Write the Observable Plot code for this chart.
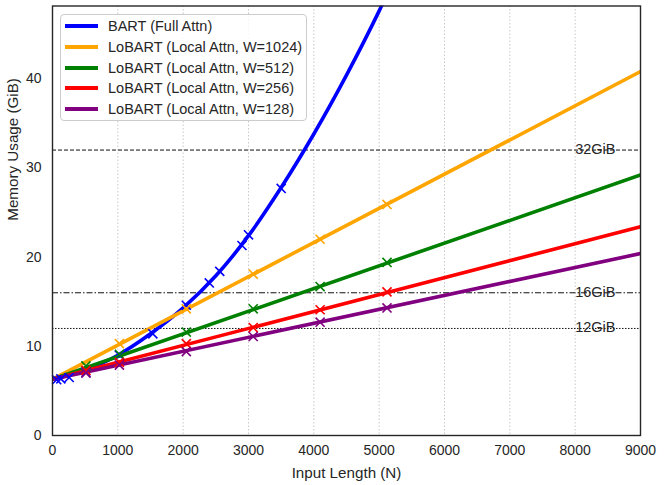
<!DOCTYPE html>
<html>
<head>
<meta charset="utf-8">
<script src="https://cdn.jsdelivr.net/npm/d3@7"></script>
<script src="https://cdn.jsdelivr.net/npm/@observablehq/plot@0.6"></script>
<style>
  body { margin: 0; background: #fff; }
  #wrap { position: relative; width: 664px; height: 485px; font-family: "Liberation Sans", Arial, sans-serif; }
  #legend { position: absolute; left: 60px; top: 14px; width: 247px; height: 107px; border: 1px solid #cccccc; border-radius: 4px; background: rgba(255,255,255,0.85); box-sizing: border-box; }
  .row { position: absolute; left: 0; height: 20px; display: flex; align-items: center; font-size: 14.5px; color: #262626; white-space: nowrap; }
  .sw { width: 33px; height: 4px; margin-left: 4px; margin-right: 10px; }
</style>
</head>
<body>
<div id="wrap"></div>
<script>
// ---- data ----
const seriesNames = ["BART (Full Attn)", "LoBART (Local Attn, W=1024)", "LoBART (Local Attn, W=512)", "LoBART (Local Attn, W=256)", "LoBART (Local Attn, W=128)"];
const seriesColors = ["#0000ff", "#ffa500", "#008000", "#ff0000", "#800080"];

// BART fitted curve
const bartCurveX = [0, 500, 1000, 1500, 2000, 2500, 3000, 3500, 4000, 4500, 5000, 5100];
const bartCurveY = [6.3, 7.3, 9.0, 11.4, 14.3, 17.9, 22.4, 27.8, 33.8, 40.4, 47.6, 49.2];
// BART measured points
const bartMarkX = [64, 128, 256, 512, 1024, 1536, 2048, 2400, 2560, 2900, 3000, 3500];
const bartMarkY = [6.25, 6.35, 6.5, 7.1, 9.0, 11.4, 14.6, 17.1, 18.4, 21.3, 22.5, 27.7];

// LoBART fitted straight lines: value at N=0 and N=9000
const lineEndsX = [0, 9000];
const w1024Line = [6.3, 40.8];
const w512Line = [6.3, 29.2];
const w256Line = [6.3, 23.4];
const w128Line = [6.3, 20.4];

// LoBART measured points
const localMarkX = [512, 1024, 2048, 3072, 4096, 5120];
const w1024Mark = [null, 10.3, 14.2, 18.1, 22.0, 25.9];
const w512Mark = [7.8, 9.1, 11.6, 14.2, 16.7, 19.4];
const w256Mark = [7.3, 8.2, 10.3, 12.1, 14.1, 16.1];
const w128Mark = [7.0, 7.9, 9.4, 11.1, 12.7, 14.3];

// memory limits
const limitValues = [32, 16, 12];
const limitLabels = ["32GiB", "16GiB", "12GiB"];
const limitDash = ["4,2", "6,2,1.5,2", "1.5,1.5"];

const xTicks = [0, 1000, 2000, 3000, 4000, 5000, 6000, 7000, 8000, 9000];
const yTicks = [0, 10, 20, 30, 40];
const xLabel = "Input Length (N)";
const yLabel = "Memory Usage (GiB)";

// ---- build tables ----
const curve = [];
bartCurveX.forEach((x, i) => curve.push({x, y: bartCurveY[i], s: seriesNames[0]}));
const localLines = [w1024Line, w512Line, w256Line, w128Line];
localLines.forEach((arr, k) => lineEndsX.forEach((x, i) => curve.push({x, y: arr[i], s: seriesNames[k + 1]})));

const marks = [];
bartMarkX.forEach((x, i) => marks.push({x, y: bartMarkY[i], s: seriesNames[0]}));
[w1024Mark, w512Mark, w256Mark, w128Mark].forEach((arr, k) =>
  localMarkX.forEach((x, i) => { if (arr[i] != null) marks.push({x, y: arr[i], s: seriesNames[k + 1]}); }));

const limits = limitValues.map((v, i) => ({v, label: limitLabels[i], dash: limitDash[i]}));

const colorScale = {domain: seriesNames, range: seriesColors};

const chart = Plot.plot({
  width: 664,
  height: 485,
  marginLeft: 52,
  marginRight: 24,
  marginTop: 5.5,
  marginBottom: 50,
  style: {fontFamily: "'Liberation Sans', Arial, sans-serif", fontSize: "14px", color: "#262626", background: "#fff"},
  x: {domain: [0, 9000]},
  y: {domain: [0, 48.15]},
  color: colorScale,
  marks: [
    Plot.ruleX(xTicks.slice(1, -1), {stroke: "#c8c8c8", strokeWidth: 1, strokeDasharray: "1.5,2"}),
    ...limits.map(d => Plot.ruleY([d.v], {stroke: "#111", strokeWidth: 1, strokeDasharray: d.dash})),
    ...limits.map(d => Plot.text([d], {x: () => 8000, y: "v", text: "label", textAnchor: "start", lineAnchor: "bottom", dy: 4, fill: "#262626", fontSize: 14.5})),
    Plot.line(curve.filter(d => d.s === seriesNames[0]), {x: "x", y: "y", stroke: "s", strokeWidth: 3.6, curve: "catmull-rom", clip: true}),
    ...seriesNames.slice(1).map(n => Plot.line(curve.filter(d => d.s === n), {x: "x", y: "y", stroke: "s", strokeWidth: 3.6, clip: true})),
    Plot.dot(marks, {x: "x", y: "y", stroke: "s", symbol: "times", r: 4.2, strokeWidth: 1.6}),
    Plot.frame({stroke: "#262626", strokeWidth: 1.4}),
    Plot.axisX({ticks: xTicks, tickSize: 0, tickPadding: 10, fontSize: 14, tickFormat: d => String(d), label: null}),
    Plot.axisY({ticks: yTicks, tickSize: 0, tickPadding: 11, fontSize: 14, label: null}),
    Plot.text([xLabel], {frameAnchor: "bottom", text: d => d, lineAnchor: "top", dy: 31.5, fontSize: 15.2, fill: "#262626"}),
    Plot.text([yLabel], {frameAnchor: "left", text: d => d, rotate: -90, lineAnchor: "middle", dx: -39.5, fontSize: 15.2, fill: "#262626"})
  ]
});

const wrap = document.getElementById("wrap");
wrap.appendChild(chart);

const legend = document.createElement("div");
legend.id = "legend";
seriesNames.forEach((n, i) => {
  const row = document.createElement("div");
  row.className = "row";
  row.style.top = (1 + i * 20.8) + "px";
  const sw = document.createElement("div");
  sw.className = "sw";
  sw.style.background = seriesColors[i];
  const t = document.createElement("span");
  t.textContent = n;
  row.appendChild(sw);
  row.appendChild(t);
  legend.appendChild(row);
});
wrap.appendChild(legend);
</script>
</body>
</html>
